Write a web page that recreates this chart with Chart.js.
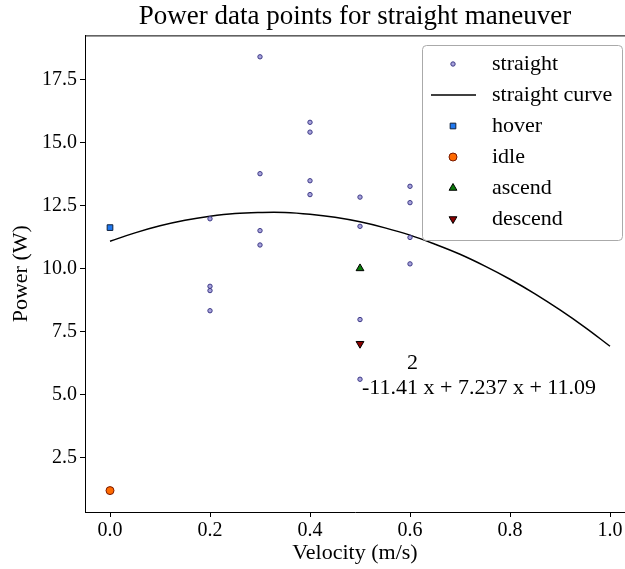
<!DOCTYPE html>
<html>
<head>
<meta charset="utf-8">
<script src="https://cdn.jsdelivr.net/npm/chart.js@4/dist/chart.umd.min.js"></script>
<style>
  html, body { margin: 0; padding: 0; background: #fff; }
  #wrap { width: 625px; height: 569px; }
</style>
</head>
<body>
<div id="wrap"><canvas id="powerChart" width="625" height="569"></canvas></div>
<script>
// straight maneuver measurements (velocity, power)
var straightVel = [0.2, 0.2, 0.2, 0.2, 0.3, 0.3, 0.3, 0.3, 0.4, 0.4, 0.4, 0.4, 0.5, 0.5, 0.5, 0.5, 0.6, 0.6, 0.6, 0.6];
var straightPow = [11.98, 9.30, 9.13, 8.33, 18.41, 13.77, 11.51, 10.94, 15.81, 15.42, 13.49, 12.94, 12.84, 11.68, 7.98, 5.61, 13.27, 12.62, 11.24, 10.19];

// fitted curve
var curveVel = [0, 0.05, 0.1, 0.15, 0.2, 0.25, 0.3, 0.35, 0.4, 0.45, 0.5, 0.55, 0.6, 0.65, 0.7, 0.75, 0.8, 0.85, 0.9, 0.95, 1.0];
var curvePow = [11.09, 11.42, 11.70, 11.92, 12.08, 12.19, 12.23, 12.23, 12.16, 12.04, 11.86, 11.62, 11.33, 10.97, 10.57, 10.10, 9.58, 9.00, 8.36, 7.67, 6.92];

// single reference points
var hoverPt = [0.0, 11.63];
var idlePt = [0.0, 1.19];
var ascendPt = [0.5, 10.01];
var descendPt = [0.5, 7.02];

var xTicks = [0.0, 0.2, 0.4, 0.6, 0.8, 1.0];
var yTicks = [2.5, 5.0, 7.5, 10.0, 12.5, 15.0, 17.5];

var fitText = '-11.41 x + 7.237 x + 11.09';
var serif = '"Liberation Serif", "DejaVu Serif", serif';

function toXY(xs, ys) {
    var out = [];
    for (var i = 0; i < xs.length; i++) {
        out.push({x: xs[i], y: ys[i]});
    }
    return out;
}

// frame, fit label and legend box like the original figure
var framePlugin = {
    id: 'framePlugin',
    afterDatasetsDraw: function(chart) {
        var ctx = chart.ctx;
        var a = chart.chartArea;
        var xs = chart.scales.x, ys = chart.scales.y;
        ctx.save();
        ctx.strokeStyle = '#000';
        ctx.lineWidth = 1;
        ctx.beginPath();
        ctx.moveTo(a.left, a.top + 0.5);
        ctx.lineTo(a.right, a.top + 0.5);
        ctx.stroke();

        // equation text
        ctx.fillStyle = '#000';
        ctx.font = '22px ' + serif;
        ctx.textBaseline = 'middle';
        ctx.textAlign = 'left';
        ctx.fillText('2', xs.getPixelForValue(0.594), ys.getPixelForValue(6.25));
        ctx.fillText(fitText, xs.getPixelForValue(0.504), ys.getPixelForValue(5.25));

        // legend
        var bx = 422, by = 45, bw = 200, bh = 195;
        ctx.fillStyle = 'rgba(255,255,255,0.85)';
        ctx.strokeStyle = '#aaa';
        ctx.beginPath();
        ctx.roundRect(bx + 0.5, by + 0.5, bw, bh, 4);
        ctx.fill();
        ctx.stroke();
        var ds = chart.data.datasets;
        for (var i = 0; i < ds.length; i++) {
            var cy = by + 19 + i * 31;
            var d = ds[i];
            if (d.showLine) {
                ctx.strokeStyle = d.borderColor;
                ctx.lineWidth = 1.5;
                ctx.beginPath();
                ctx.moveTo(bx + 9, cy);
                ctx.lineTo(bx + 54, cy);
                ctx.stroke();
            } else {
                ctx.fillStyle = d.backgroundColor;
                ctx.strokeStyle = d.borderColor;
                ctx.lineWidth = 1;
                Chart.helpers.drawPoint(ctx, {
                    pointStyle: d.pointStyle,
                    rotation: d.rotation || 0,
                    radius: d.pointRadius,
                    borderWidth: 1
                }, bx + 31, cy);
            }
            ctx.fillStyle = '#000';
            ctx.font = '22px ' + serif;
            ctx.textAlign = 'left';
            ctx.fillText(d.label, bx + 70, cy);
        }
        ctx.restore();
    }
};

var ctx = document.getElementById('powerChart');
var chart = new Chart(ctx, {
    type: 'scatter',
    data: {
        datasets: [
            {label: 'straight', data: toXY(straightVel, straightPow), pointStyle: 'circle', pointRadius: 2.2,
                backgroundColor: '#a8a3dc', borderColor: '#3d3a86', borderWidth: 1},
            {label: 'straight curve', data: toXY(curveVel, curvePow), showLine: true, pointRadius: 0,
                borderColor: '#000', borderWidth: 1.5, tension: 0.4},
            {label: 'hover', data: [{x: hoverPt[0], y: hoverPt[1]}], pointStyle: 'rect', pointRadius: 4,
                backgroundColor: '#1f78f0', borderColor: '#10203a', borderWidth: 1},
            {label: 'idle', data: [{x: idlePt[0], y: idlePt[1]}], pointStyle: 'circle', pointRadius: 4,
                backgroundColor: '#ff6a00', borderColor: '#7a1a00', borderWidth: 1},
            {label: 'ascend', data: [{x: ascendPt[0], y: ascendPt[1]}], pointStyle: 'triangle', pointRadius: 4.5,
                backgroundColor: '#0a7a0a', borderColor: '#000', borderWidth: 1},
            {label: 'descend', data: [{x: descendPt[0], y: descendPt[1]}], pointStyle: 'triangle', rotation: 180, pointRadius: 4.5,
                backgroundColor: '#8b0000', borderColor: '#000', borderWidth: 1}
        ]
    },
    options: {
        responsive: false,
        animation: false,
        events: [],
        layout: {autoPadding: false, padding: {top: 0, right: 0, bottom: 0, left: 0}},
        plugins: {
            legend: {display: false},
            tooltip: {enabled: false},
            title: {
                display: true,
                fullSize: false,
                text: 'Power data points for straight maneuver',
                color: '#000',
                font: {family: serif, size: 27, weight: 'normal'},
                padding: {top: 1, bottom: 2}
            }
        },
        scales: {
            x: {
                type: 'linear',
                min: -0.05,
                max: 1.03,
                afterBuildTicks: function(scale) {
                    scale.ticks = xTicks.map(function(v) { return {value: v}; });
                },
                afterFit: function(scale) {
                    scale.height = 57;
                    scale.paddingRight = 0;
                    scale.paddingLeft = 0;
                },
                ticks: {
                    color: '#000',
                    font: {family: serif, size: 20},
                    padding: 2,
                    maxRotation: 0,
                    callback: function(v) { return Number(v).toFixed(1); }
                },
                grid: {drawOnChartArea: false, drawTicks: true, tickLength: 5, color: '#000'},
                border: {display: true, color: '#000', width: 1},
                title: {display: true, text: 'Velocity (m/s)', color: '#000',
                    font: {family: serif, size: 22}, padding: {top: 0, bottom: 3}}
            },
            y: {
                type: 'linear',
                min: 0.34,
                max: 19.26,
                afterBuildTicks: function(scale) {
                    scale.ticks = yTicks.map(function(v) { return {value: v}; });
                },
                afterFit: function(scale) { scale.width = 85; },
                ticks: {
                    color: '#000',
                    font: {family: serif, size: 20},
                    padding: 3,
                    callback: function(v) { return Number(v).toFixed(1); }
                },
                grid: {drawOnChartArea: false, drawTicks: true, tickLength: 5, color: '#000'},
                border: {display: true, color: '#000', width: 1},
                title: {display: true, text: 'Power (W)', color: '#000',
                    font: {family: serif, size: 22}, padding: {top: 8, bottom: 2}}
            }
        }
    },
    plugins: [framePlugin]
});
</script>
</body>
</html>
